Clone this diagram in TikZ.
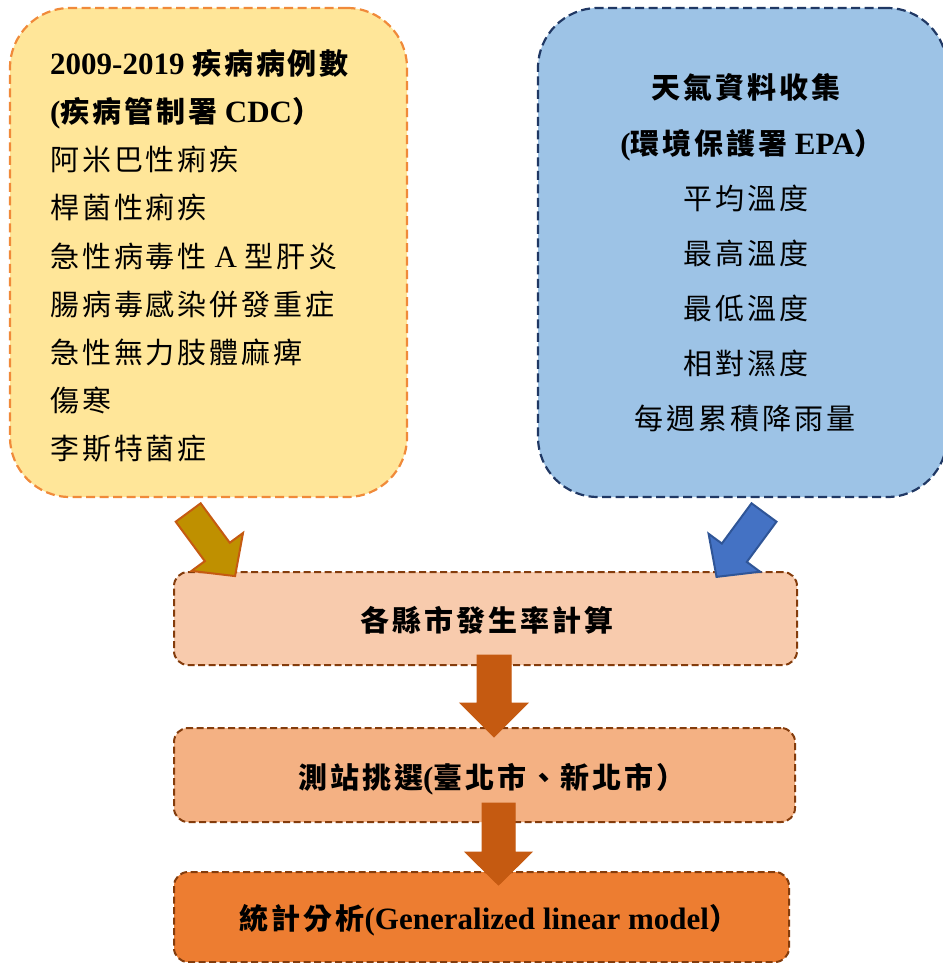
\documentclass[tikz,border=0pt]{standalone}
\usepackage{fontspec}
\setmainfont{Liberation Serif}
\newfontfamily\cjkfont[LetterSpace=10]{Noto Sans CJK TC}
\newcommand\zh[1]{{\fontsize{29}{34}\cjkfont #1}}
\definecolor{yfill}{HTML}{FFE699}
\definecolor{yline}{HTML}{F08A3A}
\definecolor{bfill}{HTML}{9DC3E6}
\definecolor{bline}{HTML}{203864}
\definecolor{p1}{HTML}{F8CBAD}
\definecolor{p2}{HTML}{F4B183}
\definecolor{p3}{HTML}{ED7D31}
\definecolor{pline}{HTML}{843C0C}
\definecolor{garrow}{HTML}{BF9000}
\definecolor{garrowline}{HTML}{C55A11}
\definecolor{barrowc}{HTML}{4472C4}
\definecolor{barrowline}{HTML}{2F5597}
\definecolor{oarrow}{HTML}{C55A11}
\newcommand\barrow[7]{%
  \begin{scope}[shift={#1},rotate=#2]
    \draw[#7] (0,{#4/2}) -- ({#3-#6},{#4/2}) -- ({#3-#6},{#5/2}) -- (#3,0)
      -- ({#3-#6},{-#5/2}) -- ({#3-#6},{-#4/2}) -- (0,{-#4/2}) -- cycle;
  \end{scope}}
\begin{document}
\begin{tikzpicture}[x=1pt,y=-1pt,
  bigbox/.style={draw, line width=2.2pt, dash pattern=on 9pt off 4.5pt, rounded corners=60pt, inner sep=0pt},
  stepbox/.style={draw=pline, line width=2pt, dash pattern=on 7pt off 3.5pt, rounded corners=14pt, inner sep=0pt},
  txt/.style={inner sep=0pt, font=\fontsize{31}{36}\selectfont, text=black},
  item/.style={txt, anchor=base west},
  citem/.style={txt, anchor=base},
  yarr/.style={fill=garrow, draw=garrowline, line width=2pt, line join=miter},
  barr/.style={fill=barrowc, draw=barrowline, line width=2pt, line join=miter},
  oarr/.style={fill=oarrow, draw=oarrow, line width=1pt, line join=miter}]
\useasboundingbox (0,0) rectangle (942,963);
\fill[white] (0,0) rectangle (942,963);

% big boxes
\node[bigbox, fill=yfill, draw=yline, minimum width=397pt, minimum height=489pt] (cdc) at (208.5,252.5) {};
\node[bigbox, fill=bfill, draw=bline, minimum width=409pt, minimum height=489pt] (epa) at (742.5,252.5) {};

% step boxes
\node[stepbox, fill=p1, minimum width=623pt, minimum height=93pt] (rate) at (485.5,618.5) {};
\node[stepbox, fill=p2, minimum width=621pt, minimum height=94pt] (site) at (484.5,775) {};
\node[stepbox, fill=p3, minimum width=615pt, minimum height=90pt] (glm) at (481.5,917) {};

% yellow box text
\node[item] (t1) at (50,74.5) {\bfseries 2009-2019 \zh{疾病病例數}};
\node[item] (t2) at (50,122.5) {\bfseries (\zh{疾病管制署} CDC\zh{）}};
\node[item] (t3) at (50,170.5) {\zh{阿米巴性痢疾}};
\node[item] (t4) at (50,218.5) {\zh{桿菌性痢疾}};
\node[item] (t5) at (50,267) {\zh{急性病毒性} A \zh{型肝炎}};
\node[item] (t6) at (50,315) {\zh{腸病毒感染併發重症}};
\node[item] (t7) at (50,363) {\zh{急性無力肢體麻痺}};
\node[item] (t8) at (50,411) {\zh{傷寒}};
\node[item] (t9) at (50,459.5) {\zh{李斯特菌症}};

% blue box text
\node[citem] (w1) at (746,98.5) {\bfseries\zh{天氣資料收集}};
\node[citem] (w2) at (752,154) {\bfseries (\zh{環境保護署} EPA\zh{）}};
\node[citem] (w3) at (746,209) {\zh{平均溫度}};
\node[citem] (w4) at (746,264) {\zh{最高溫度}};
\node[citem] (w5) at (746,319) {\zh{最低溫度}};
\node[citem] (w6) at (746,374) {\zh{相對濕度}};
\node[citem] (w7) at (745,429) {\zh{每週累積降雨量}};

% step texts
\node[citem] (s1) at (487,631) {\bfseries\zh{各縣市發生率計算}};
\node[citem] (s2) at (492,788) {\bfseries\zh{測站挑選}(\zh{臺北市、新北市）}};
\node[citem] (s3) at (489,929) {\bfseries\zh{統計分析}(Generalized linear model\zh{）}};

% arrows
\coordinate (ya) at (188.2,512.5);
\coordinate (ba) at (764,512.5);
\coordinate (va) at (494,655);
\coordinate (vb) at (498.5,803);
\barrow{(ya)}{-53.6}{79}{31}{64}{30}{yarr}
\barrow{(ba)}{-126.4}{80}{31}{64}{30}{barr}
\barrow{(va)}{-90}{82}{34}{68}{34}{oarr}
\barrow{(vb)}{-90}{82}{33}{67}{33}{oarr}
\end{tikzpicture}
\end{document}
